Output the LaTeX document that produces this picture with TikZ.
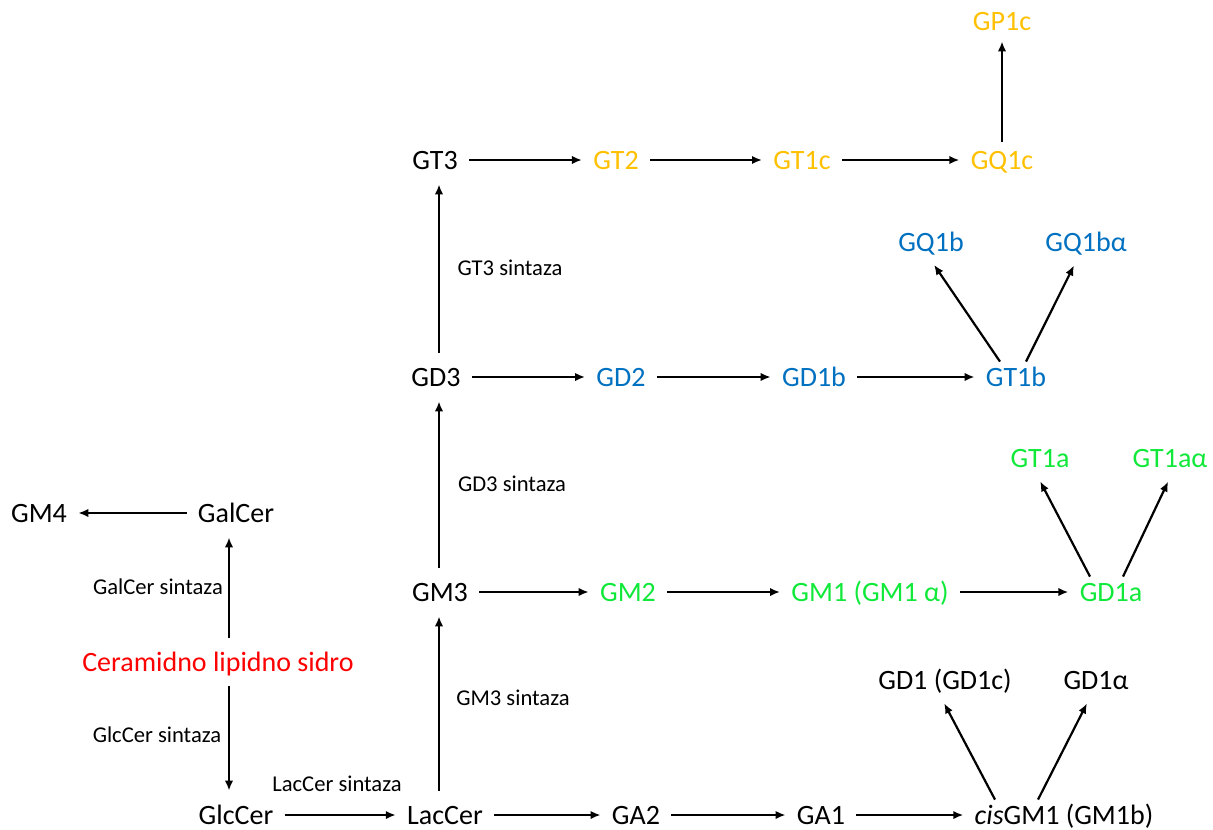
\documentclass[tikz,border=0pt]{standalone}
\usepackage{fontspec}
\setmainfont{Carlito}
\usetikzlibrary{arrows.meta}

\definecolor{cseries}{HTML}{FFC000}
\definecolor{bseries}{HTML}{0070C0}
\definecolor{aseries}{HTML}{10E83A}
\definecolor{anchorred}{HTML}{FF0000}

\tikzset{
  gang/.style={inner xsep=4pt, inner ysep=3pt, text height=9pt, text depth=0pt,
    font=\fontsize{14}{16}\selectfont},
  enz/.style={inner sep=1pt, font=\fontsize{11.3}{13}\selectfont},
  arr/.style={-{Latex[length=5pt,width=4.2pt]}, line width=1.1pt,
    shorten <=1.5pt, shorten >=1.5pt},
  up/.style={arr, shorten <=4.5pt, shorten >=4.5pt},
  branch/.style={arr, shorten <=0pt, shorten >=4.5pt}
}

\begin{document}
\begin{tikzpicture}[x=0.5pt,y=-0.5pt]
  \useasboundingbox (0,0) rectangle (1213,829);

  \def \Nodes {
    GP1c/1002/22/cseries/GP1c,
    GT3/435/160/black/GT3,
    GT2/616/160/cseries/GT2,
    GT1c/802/160/cseries/GT1c,
    GQ1c/1002/160/cseries/GQ1c,
    GQ1b/931/242/bseries/GQ1b,
    GQ1ba/1086/242/bseries/GQ1bα,
    GD3/436/377/black/GD3,
    GD2/621/377/bseries/GD2,
    GD1b/814/377/bseries/GD1b,
    GT1b/1016/377/bseries/GT1b,
    GT1a/1040/458/aseries/GT1a,
    GT1aa/1170/458/aseries/GT1aα,
    GM4/39/513/black/GM4,
    GalCer/236/513/black/GalCer,
    GM3/440/592/black/GM3,
    GM2/628/592/aseries/GM2,
    GM1/870/592/aseries/GM1 (GM1 α),
    GD1a/1111/592/aseries/GD1a,
    Cer/218/662/anchorred/Ceramidno lipidno sidro,
    GD1c/945/680/black/GD1 (GD1c),
    GD1al/1096/680/black/GD1α,
    GlcCer/236/815/black/GlcCer,
    LacCer/445/815/black/LacCer,
    GA2/636/815/black/GA2,
    GA1/821/815/black/GA1,
    cisGM1/1064/815/black/\textit{cis}GM1 (GM1b)}
  \def \Enzymes {
    e1/510/268/GT3 sintaza,
    e2/512/484/GD3 sintaza,
    e3/513/698/GM3 sintaza,
    e4/158/587/GalCer sintaza,
    e5/157/735/GlcCer sintaza,
    e6/337/784/LacCer sintaza}
  \def \Chain {
    GT3/GT2, GT2/GT1c, GT1c/GQ1c,
    GD3/GD2, GD2/GD1b, GD1b/GT1b,
    GM3/GM2, GM2/GM1, GM1/GD1a,
    GlcCer/LacCer, LacCer/GA2, GA2/GA1, GA1/cisGM1,
    GalCer/GM4}
  \def \Branches {
    GT1b/-8/GQ1b/-1, GT1b/5/GQ1ba/-4,
    GD1a/-10.5/GT1a/-2, GD1a/6/GT1aa/1,
    cisGM1/-34.5/GD1c/-2.5, cisGM1/-13/GD1al/-2.5}

  \foreach \id / \x / \y / \c / \t in \Nodes {
    \node[gang, text=\c] (\id) at (\x, \y) {\t};
  }
  \foreach \id / \x / \y / \t in \Enzymes {
    \node[enz] (\id) at (\x, \y) {\t};
  }

  % horizontal steps
  \foreach \a / \b in \Chain {
    \draw[arr] (\a) -- (\b);
  }
  % side branches
  \foreach \a / \sa / \b / \sb in \Branches {
    \draw[branch] ([xshift=\sa pt]\a.north) -- ([xshift=\sb pt]\b.south);
  }

  % synthase steps
  \draw[up] ([xshift=-3pt]LacCer.north) -- ([xshift=-3pt]LacCer.north |- GM3.south);
  \draw[up] ([xshift=-0.5pt]GM3.north) -- ([xshift=-0.5pt]GM3.north |- GD3.south);
  \draw[up] ([xshift=1.5pt]GD3.north) -- ([xshift=1.5pt]GD3.north |- GT3.south);
  \draw[up, shorten <=1.5pt, shorten >=2pt] (GQ1c.north) -- (GP1c.south);
  \draw[up] ([xshift=5.5pt]Cer.north) -- ([xshift=5.5pt]Cer.north |- GalCer.south);
  \draw[up] ([xshift=5.5pt]Cer.south) -- ([xshift=5.5pt]Cer.south |- GlcCer.north);
\end{tikzpicture}
\end{document}
